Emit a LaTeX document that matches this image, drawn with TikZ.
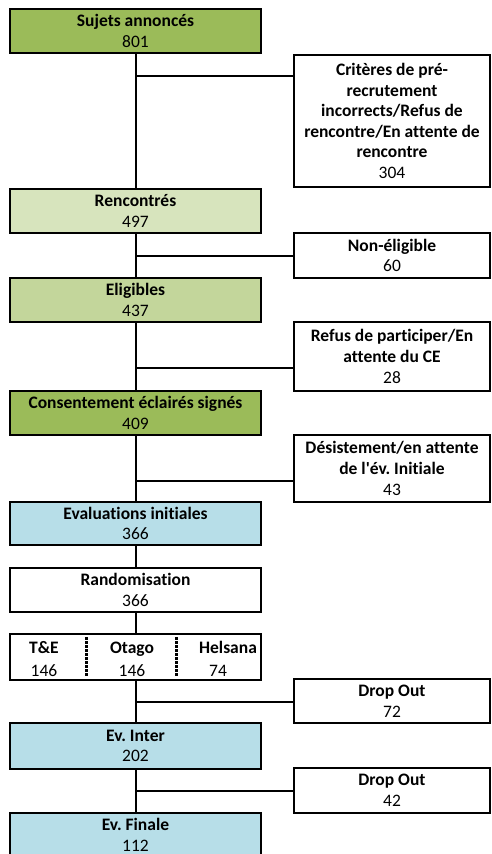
\documentclass[tikz,border=0pt]{standalone}
\usepackage{fontspec}
\setmainfont{Carlito}[Ligatures={NoCommon}]
\frenchspacing
\usetikzlibrary{calc}
\definecolor{colAnn}{HTML}{9BBB59}
\definecolor{colRenc}{HTML}{D7E4BD}
\definecolor{colElig}{HTML}{C3D69B}
\definecolor{colEval}{HTML}{B7DEE8}
\newcommand{\boxfont}{\fontsize{17.5}{20.6}\selectfont}
\tikzstyle{mainbox}=[draw,line width=2pt,minimum width=251pt,inner sep=0pt,align=center,font=\boxfont]
\tikzstyle{sidebox}=[draw,line width=2pt,minimum width=196pt,inner sep=0pt,align=center,font=\boxfont,fill=white]
\tikzstyle{cell}=[inner sep=0pt,anchor=base,font=\boxfont]
\tikzstyle{link}=[draw,line width=2pt]
\tikzstyle{sep}=[draw,line width=3pt,dash pattern=on 2.5pt off 1.5pt]

\begin{document}
\begin{tikzpicture}[x=1pt,y=1pt]
    \useasboundingbox (0,0) rectangle (491,-854);
    \clip (0,0) rectangle (491,-854);
    % Main boxes down the left side
    \foreach \pos/\name/\col/\h/\title/\num in {{(135.5,-31)/sujets/colAnn/44/Sujets annoncés/801},
    {(135.5,-211)/renc/colRenc/44/Rencontrés/497}, {(135.5,-300)/elig/colElig/44/Eligibles/437},
    {(135.5,-413)/cons/colAnn/44/Consentement éclairés signés/409},
    {(135.5,-523.5)/evalinit/colEval/43/Evaluations initiales/366},
    {(135.5,-590)/rando/white/44/Randomisation/366},
    {(135.5,-746)/inter/colEval/46/Ev. Inter/202}, {(135.5,-835)/finale/colEval/44/Ev. Finale/112}}
        \node[mainbox,fill=\col,minimum height=\h pt] (\name) at \pos {\textbf{\title}\\\num};

    % The three arms
    \node[mainbox,fill=white,minimum height=46pt] (arms) at (135.5,-657) {};
    \foreach \pos/\name/\label in {{(44,-653)/te/\textbf{T\&E}}, {(44,-676)/tenum/146},
    {(132,-653)/ot/\textbf{Otago}}, {(132,-676)/otnum/146},
    {(228,-653)/he/\textbf{Helsana}}, {(218,-676)/henum/74}}
        \node[cell] (\name) at \pos {\label};
    \path[sep] (86,-637) -- (86,-677);
    \path[sep] (176,-637) -- (176,-677);

    % Exclusions on the right
    \foreach \pos/\name/\h/\label in {{(392,-121)/crit/132/{\textbf{Critères de pré-}\\\textbf{recrutement}\\\textbf{incorrects/Refus de}\\\textbf{rencontre/En attente de}\\\textbf{rencontre}\\304}},
    {(392,-255.5)/nonel/45/{\textbf{Non-éligible}\\60}},
    {(392,-356.5)/refus/69/{\textbf{Refus de participer/En}\\\textbf{attente du CE}\\28}},
    {(392,-468.5)/desist/67/{\textbf{Désistement/en attente}\\\textbf{de l\textquotesingle év. Initiale}\\43}},
    {(392,-701)/dropa/44/{\textbf{Drop Out}\\72}}, {(392,-790.5)/dropb/45/{\textbf{Drop Out}\\42}}}
        \node[sidebox,minimum height=\h pt] (\name) at \pos {\label};

    % Connect the main boxes
    \foreach \source/\dest in {sujets/renc, renc/elig, elig/cons, cons/evalinit, evalinit/rando, rando/arms, arms/inter, inter/finale}
        \path[link] (\source) -- (\dest);

    % Branches to the exclusions
    \foreach \y/\name/\side in {-76/ja/crit, -256/jb/nonel, -368/jc/refus, -481/jd/desist, -702/je/dropa, -791/jf/dropb}
    {
        \coordinate (\name) at (135.5,\y);
        \path[link] (\name) -- (\name -| \side.west);
    }
\end{tikzpicture}
\end{document}
